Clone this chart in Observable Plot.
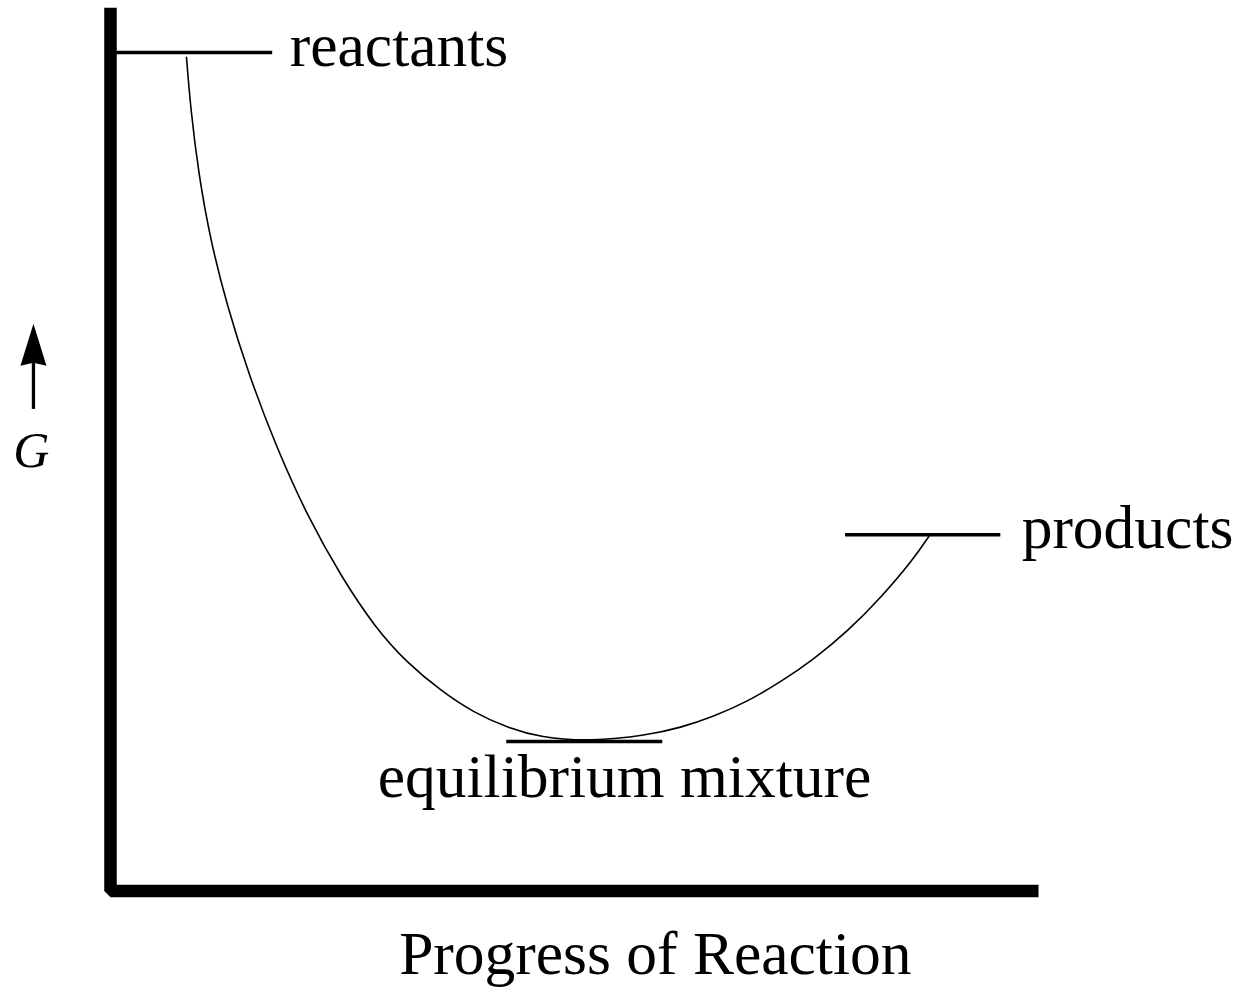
<!DOCTYPE html>
<html>
<head>
<meta charset="utf-8">
<script src="https://cdn.jsdelivr.net/npm/d3@7"></script>
<script src="https://cdn.jsdelivr.net/npm/@observablehq/plot@0.6"></script>
<style>
  html, body { margin: 0; padding: 0; background: #fff; }
  #chart svg { display: block; }
</style>
</head>
<body>
<div id="chart"></div>
<script>
// Reaction progress (0 = pure reactants, 1 = pure products) and free energy G (arbitrary units)
const progress = [0, 0.0054, 0.0162, 0.0323, 0.0552, 0.0834, 0.1198, 0.164, 0.209, 0.254, 0.298, 0.342, 0.386, 0.432, 0.476, 0.544, 0.620, 0.665, 0.709, 0.755, 0.799, 0.844, 0.890, 0.934, 0.978, 1.0];
const freeEnergy = [99.3, 92.0, 82.4, 72.7, 63.0, 53.4, 43.0, 32.4, 23.8, 16.5, 11.3, 7.4, 4.2, 2.0, 0.6, 0, 0.9, 2.0, 3.6, 5.8, 8.6, 11.9, 16.0, 20.8, 26.4, 29.9];

// Level markers
const levelNames = ["reactants", "equilibrium mixture", "products"];
const levelG = [100, 0, 30];
const levelFrom = [-0.094, 0.431, 0.887];
const levelTo = [0.116, 0.641, 1.096];

// Label placement
const labelX = [0.139, 0.5895, 1.124];
const labelG = [98.1, -8.1, 28.1];
const labelAnchor = ["start", "middle", "start"];

// Axes frame
const frameX = [-0.1023, -0.1023, 1.1467];
const frameG = [106.5, -21.7, -21.7];

const xTitle = "Progress of Reaction";
const yTitle = "G";

const curve = progress.map((p, i) => ({p, g: freeEnergy[i]}));
const levels = levelNames.map((name, i) => ({name, g: levelG[i], x1: levelFrom[i], x2: levelTo[i]}));
const labels = levelNames.map((name, i) => ({name, x: labelX[i], g: labelG[i], anchor: labelAnchor[i]}));
const frame = frameX.map((x, i) => ({x, g: frameG[i]}));

const serif = "'Liberation Serif', 'Times New Roman', Times, serif";

const arrowHead = {
  draw(ctx) {
    ctx.moveTo(0, -21);
    ctx.lineTo(13, 21);
    ctx.lineTo(0, 18);
    ctx.lineTo(-13, 21);
    ctx.closePath();
  }
};

const chart = Plot.plot({
  width: 1244,
  height: 987,
  marginTop: 0, marginRight: 0, marginBottom: 0, marginLeft: 0,
  x: {domain: [-0.25034, 1.42396], axis: null},
  y: {domain: [-35.704, 107.547], axis: null},
  style: {background: "#fff", color: "#000"},
  marks: [
    Plot.line(frame, {x: "x", y: "g", stroke: "black", strokeWidth: 12.5, strokeLinejoin: "miter", strokeLinecap: "butt"}),
    Plot.ruleY(levels, {y: "g", x1: "x1", x2: "x2", stroke: "black", strokeWidth: 3.4}),
    Plot.line(curve, {x: "p", y: "g", curve: "basis", stroke: "black", strokeWidth: 1.6}),
    Plot.text(labels.filter(d => d.anchor === "start"), {x: "x", y: "g", text: "name", textAnchor: "start", lineAnchor: "bottom", fontSize: 61.5, fontFamily: serif, fill: "black"}),
    Plot.text(labels.filter(d => d.anchor === "middle"), {x: "x", y: "g", text: "name", textAnchor: "middle", lineAnchor: "bottom", fontSize: 61.5, fontFamily: serif, fill: "black"}),
    Plot.text([xTitle], {x: 0.631, y: -33.7, text: d => d, textAnchor: "middle", lineAnchor: "bottom", fontSize: 61.5, fontFamily: serif, fill: "black"}),
    Plot.text([yTitle], {x: -0.209, y: 39.8, text: d => d, textAnchor: "middle", lineAnchor: "bottom", fontSize: 50, fontStyle: "italic", fontFamily: serif, fill: "black"}),
    Plot.ruleX([-0.206], {x: d => d, y1: 48.2, y2: 56, stroke: "black", strokeWidth: 3.3}),
    Plot.dot([-0.206], {x: d => d, y: 57.6, symbol: arrowHead, fill: "black", stroke: "none", r: 5})
  ]
});

document.getElementById("chart").appendChild(chart);
</script>
</body>
</html>
